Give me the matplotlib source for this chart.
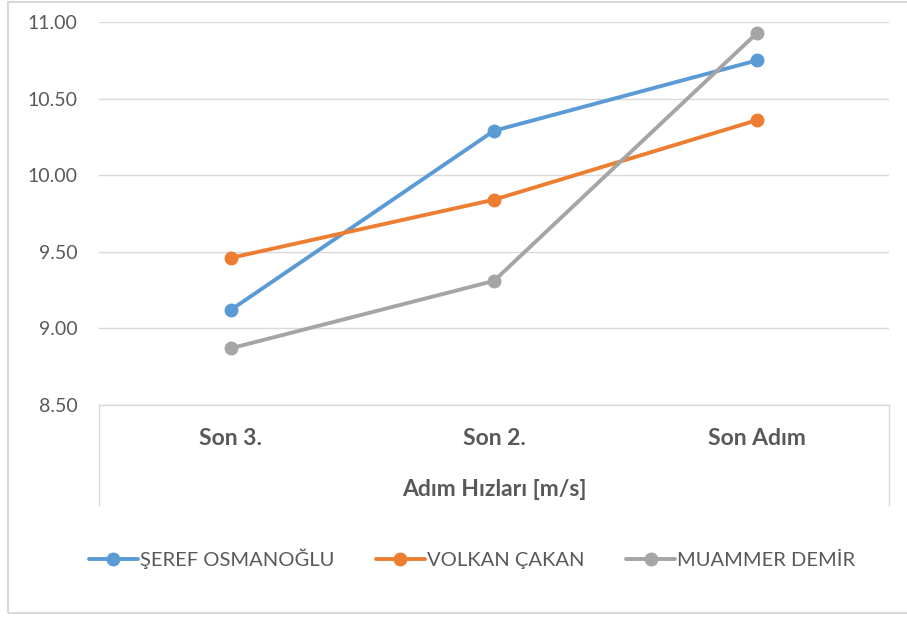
import matplotlib
matplotlib.use("Agg")
import matplotlib.pyplot as plt
from matplotlib.patches import Rectangle
from matplotlib.lines import Line2D

categories = ["Son 3.", "Son 2.", "Son Adım"]
seref = [9.12, 10.29, 10.75]
volkan = [9.46, 9.84, 10.36]
muammer = [8.87, 9.31, 10.93]
series_names = ["ŞEREF OSMANOĞLU", "VOLKAN ÇAKAN", "MUAMMER DEMİR"]
colors = ["#5B9BD5", "#ED7D31", "#A5A5A5"]
yticks = [8.5, 9.0, 9.5, 10.0, 10.5, 11.0]
x_title = "Adım Hızları [m/s]"

plt.rcParams['font.family'] = ['Lato', 'DejaVu Sans']
W, H = 907, 619
fig = plt.figure(figsize=(W / 100, H / 100), dpi=100)

def fx(px):
    return px / W

def fy(py):
    return 1 - py / H

ax = fig.add_axes([fx(99), fy(405), fx(889) - fx(99), fy(22) - fy(405)])
x = list(range(len(categories)))
handles = []
for vals, name, c in zip([seref, volkan, muammer], series_names, colors):
    h, = ax.plot(x, vals, color=c, lw=2.8, marker='o', markersize=9,
                 solid_capstyle='round', label=name, zorder=3)
    handles.append(h)

ax.set_xlim(-0.5, len(categories) - 0.5)
ax.set_ylim(8.5, 11.0)
ax.set_yticks(yticks)
ax.set_yticklabels([f"{v:.2f}" for v in yticks])
ax.yaxis.grid(True, color="#d9d9d9", lw=1.0)
ax.set_axisbelow(True)
ax.tick_params(axis='y', length=0, pad=15.5, labelsize=14, labelcolor="#595959")
ax.set_xticks([])
for s in ['top', 'right', 'left']:
    ax.spines[s].set_visible(False)
ax.spines['bottom'].set_color("#d9d9d9")
ax.spines['bottom'].set_linewidth(1.0)

# category labels
for i, cat in enumerate(categories):
    ax.text(i, -0.087, cat, transform=ax.get_xaxis_transform(), ha='center', va='center',
            fontsize=16.5, fontweight='bold', color="#595959")

# outer category box vertical lines
for px in (99, 889):
    fig.add_artist(Line2D([fx(px), fx(px)], [fy(405), fy(505)], color="#d9d9d9", lw=1.0))

fig.text(fx(494), fy(489), x_title, ha='center', va='center', fontsize=16.5,
         fontweight='bold', color="#595959")

# legend
leg = fig.legend(handles=handles, loc='center', bbox_to_anchor=(fx(472), fy(559)), ncol=3,
                 frameon=False, fontsize=14.5, handlelength=2.4, handletextpad=0.1,
                 columnspacing=2.1, labelcolor="#595959")

# outer border
fig.add_artist(Rectangle((fx(8), fy(613)), 2.0, fy(2) - fy(613), fill=False,
                         edgecolor="#d9d9d9", lw=1.5, transform=fig.transFigure))

fig.savefig("out.png", dpi=100)
